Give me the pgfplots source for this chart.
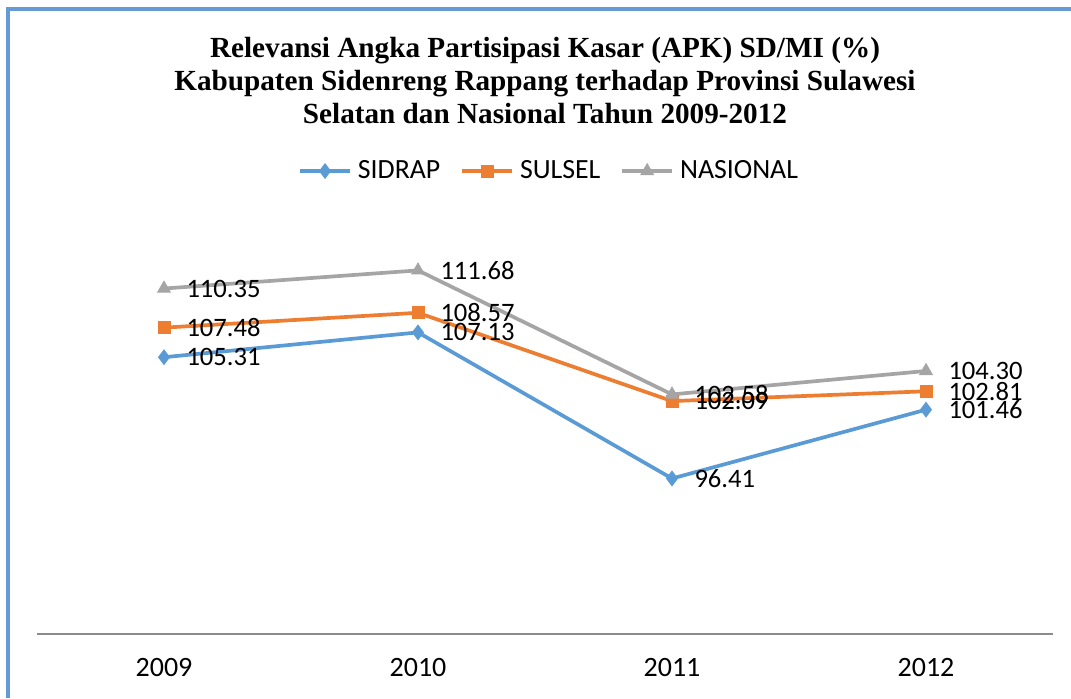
\documentclass[border=0pt]{standalone}
\usepackage{fontspec}
\setmainfont{Carlito}
\newfontfamily\titlefont{Liberation Serif}
\usepackage{pgfplots}
\pgfplotsset{compat=1.18}
\definecolor{cSid}{RGB}{91,155,213}
\definecolor{cSul}{RGB}{237,125,49}
\definecolor{cNas}{RGB}{165,165,165}
\definecolor{cFrame}{RGB}{100,155,215}
\begin{document}
\begin{tikzpicture}[x=0.5pt,y=0.5pt]
\path[use as bounding box] (0,0) rectangle (1071,698);
\fill[cFrame] (6,0) rectangle (10,691);
\fill[cFrame] (6,687) rectangle (1071,691);
\node[font=\titlefont\bfseries\fontsize{14.6pt}{16.5pt}\selectfont, align=center] at (545,617)
  {Relevansi Angka Partisipasi Kasar (APK) SD/MI (\%)\\Kabupaten Sidenreng Rappang terhadap Provinsi Sulawesi\\Selatan dan Nasional Tahun 2009-2012};
\begin{axis}[
  at={(18.5pt,32pt)}, anchor=south west,
  scale only axis, width=508pt, height=238.5pt,
  xmin=-0.5, xmax=3.5, ymin=85, ymax=120,
  axis y line=none, axis x line*=bottom,
  x axis line style={-, draw=gray!90, line width=0.7pt},
  xtick={0,1,2,3}, xticklabels={2009,2010,2011,2012},
  major tick length=0pt,
  xticklabel style={font=\fontsize{14pt}{16pt}\selectfont, yshift=-8.5pt},
  ytick=\empty,
  clip=false,
  every axis plot/.append style={line width=1.85pt},
  nodes near coords,
  point meta=explicit symbolic,
  every node near coord/.append style={font=\fontsize{13.3pt}{15pt}\selectfont, anchor=west, inner sep=0pt, xshift=11pt, text=black},
  legend style={at={(0.505,0.9706)}, anchor=center, draw=none, fill=none,
    legend columns=-1, font=\fontsize{13.9pt}{16pt}\selectfont,
    /tikz/every even column/.append style={column sep=8pt},
    /tikz/every odd column/.append style={column sep=1pt}},
  legend image code/.code={\draw[mark repeat=2,mark phase=2] plot coordinates {(0pt,0pt)(12.5pt,0pt)(25pt,0pt)};},
]
\addplot[cSid, mark=diamond*, mark size=3.6pt, mark options={line width=0.5pt}] coordinates {(0,105.31)[105.31] (1,107.13)[107.13] (2,96.41)[96.41] (3,101.46)[101.46]};
\addlegendentry{SIDRAP}
\addplot[cSul, mark=square*, mark size=3pt, mark options={line width=0.5pt}] coordinates {(0,107.48)[107.48] (1,108.57)[108.57] (2,102.09)[102.09] (3,102.81)[102.81]};
\addlegendentry{SULSEL}
\addplot[cNas, mark=triangle*, mark size=3.6pt, mark options={line width=0.5pt}] coordinates {(0,110.35)[110.35] (1,111.68)[111.68] (2,102.58)[102.58] (3,104.30)[104.30]};
\addlegendentry{NASIONAL}
\end{axis}
\end{tikzpicture}
\end{document}
